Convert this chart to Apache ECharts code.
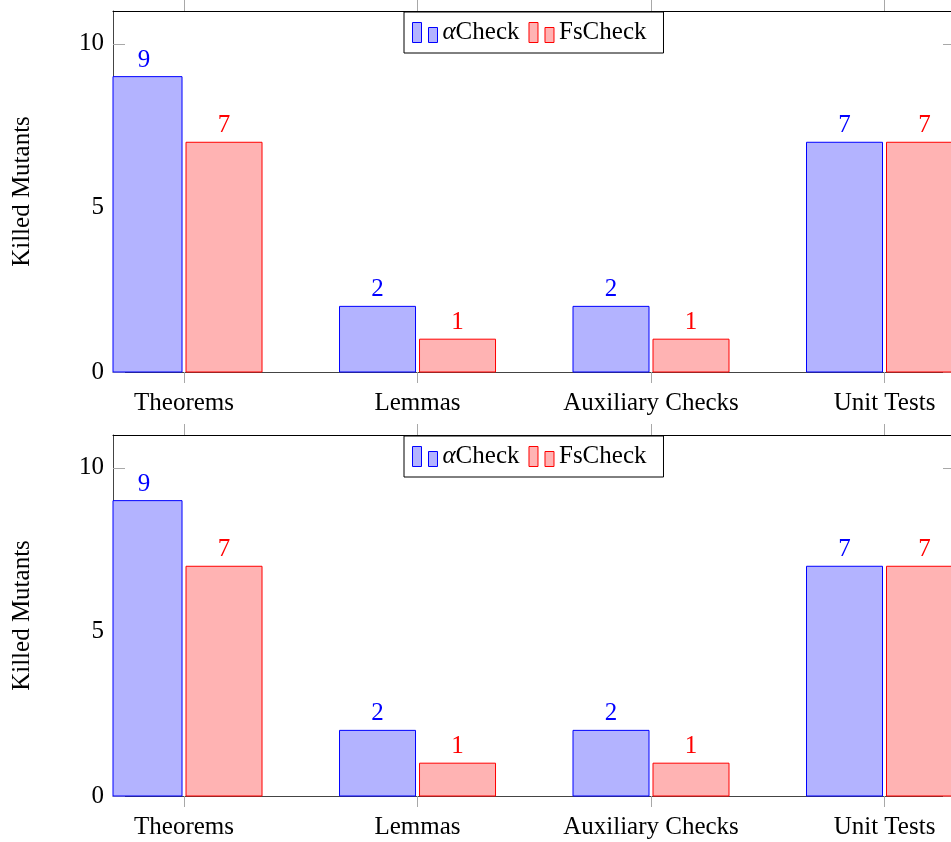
<!DOCTYPE html>
<html>
<head>
<meta charset="utf-8">
<script src="https://cdn.jsdelivr.net/npm/echarts@6/dist/echarts.min.js"></script>
<style>
html,body{margin:0;padding:0;background:#fff;}
#chart{width:951px;height:842px;}
</style>
</head>
<body>
<div id="chart"></div>
<script>
const categories = ['Theorems', 'Lemmas', 'Auxiliary Checks', 'Unit Tests'];
const alphaCheck = [9, 2, 2, 7];
const fsCheck = [7, 1, 1, 7];
const yTicks = [0, 5, 10];
const seriesNames = ['αCheck', 'FsCheck'];

const FONT = 'Liberation Serif';
const FS = 25;
const BAR_W = 76, BAR_GAP = 4;
const X_MIN = -0.3042, X_MAX = 3.2848;
const catPos = categories.map((c, i) => i);
const panels = [{ top: 11, height: 361 }, { top: 435, height: 361 }];

const grids = [], xAxes = [], yAxes = [], series = [], legends = [];
const iconPath = 'path://M0,0h9v20h-9zM16,5h9v15h-9z';

const defs = [
  { name: seriesNames[0], data: alphaCheck, fill: 'rgb(179,179,255)', stroke: '#0000ff', slot: -1 },
  { name: seriesNames[1], data: fsCheck, fill: 'rgb(255,179,179)', stroke: '#ff0000', slot: 1 }
];

function makeRender(d) {
  return function (params, api) {
    const xv = api.value(0), yv = api.value(1);
    const base = api.coord([xv, 0]);
    const top = api.coord([xv, yv]);
    const cx = base[0] + d.slot * (BAR_W + BAR_GAP) / 2;
    const cs = params.coordSys;
    const rect = echarts.graphic.clipRectByRect(
      { x: cx - BAR_W / 2, y: top[1], width: BAR_W, height: base[1] - top[1] },
      { x: cs.x, y: cs.y, width: cs.width + 10, height: cs.height }
    );
    const children = [];
    if (rect) {
      children.push({
        type: 'rect', shape: rect,
        style: { fill: d.fill, stroke: d.stroke, lineWidth: 1 }
      });
    }
    children.push({
      type: 'text', x: cx, y: top[1] - 4,
      style: { text: String(yv), fill: d.stroke, font: FS + 'px "' + FONT + '"',
        textAlign: 'center', textVerticalAlign: 'bottom' }
    });
    return { type: 'group', children: children };
  };
}

panels.forEach((p, k) => {
  grids.push({ left: 113, right: 0, top: p.top, height: p.height, containLabel: false });
  const xBase = {
    type: 'value', gridIndex: k, min: X_MIN, max: X_MAX,
    splitLine: { show: false }
  };
  xAxes.push(Object.assign({}, xBase, {
    position: 'bottom',
    axisLine: { show: true, onZero: false, lineStyle: { color: '#444', width: 1 } },
    axisTick: { show: true, inside: false, length: 11, customValues: catPos, lineStyle: { color: '#a8a8a8' } },
    axisLabel: { show: true, customValues: catPos, margin: 19, color: '#000',
      fontFamily: FONT, fontSize: FS, formatter: v => categories[Math.round(v)] }
  }));
  xAxes.push(Object.assign({}, xBase, {
    position: 'top',
    axisLine: { show: true, onZero: false, lineStyle: { color: '#000', width: 1 } },
    axisTick: { show: true, inside: false, length: 11, customValues: catPos, lineStyle: { color: '#a8a8a8' } },
    axisLabel: { show: false }
  }));
  const yBase = { type: 'value', gridIndex: k, min: 0, max: 11, splitLine: { show: false } };
  yAxes.push(Object.assign({}, yBase, {
    position: 'left',
    name: 'Killed Mutants', nameLocation: 'middle', nameGap: 78,
    nameTextStyle: { fontFamily: FONT, fontSize: FS, color: '#000' },
    axisLine: { show: true, onZero: false, lineStyle: { color: '#444', width: 1 } },
    axisTick: { show: true, inside: true, length: 12, customValues: yTicks, lineStyle: { color: '#a8a8a8' } },
    axisLabel: { show: true, customValues: yTicks, margin: 9, color: '#000', fontFamily: FONT, fontSize: FS }
  }));
  yAxes.push(Object.assign({}, yBase, {
    position: 'right',
    axisLine: { show: false, onZero: false },
    axisTick: { show: true, inside: true, length: 8, customValues: yTicks, lineStyle: { color: '#a8a8a8' } },
    axisLabel: { show: false }
  }));
  defs.forEach(d => {
    series.push({
      type: 'custom', name: d.name, xAxisIndex: 2 * k, yAxisIndex: 2 * k,
      data: d.data.map((v, i) => [catPos[i], v]),
      renderItem: makeRender(d), clip: false,
      itemStyle: { color: d.fill, borderColor: d.stroke, borderWidth: 1 },
      encode: { x: 0, y: 1 },
      emphasis: { disabled: true }, animation: false, silent: true
    });
  });
  legends.push({
    left: 404, top: p.top + 1, orient: 'horizontal',
    backgroundColor: '#fff', borderColor: '#000', borderWidth: 1,
    padding: [8, 17, 8, 8], itemGap: 9, itemWidth: 25, itemHeight: 20,
    data: defs.map(d => ({ name: d.name, icon: iconPath,
      itemStyle: { color: d.fill, borderColor: d.stroke, borderWidth: 1 } })),
    selectedMode: false,
    formatter: n => n === 'αCheck' ? '{a|α}Check' : n,
    textStyle: { fontFamily: FONT, fontSize: FS, color: '#000',
      rich: { a: { fontFamily: FONT, fontSize: FS, fontStyle: 'italic', color: '#000' } } }
  });
});

const chart = echarts.init(document.getElementById('chart'), null, { renderer: 'canvas' });
chart.setOption({
  animation: false,
  backgroundColor: '#fff',
  grid: grids, xAxis: xAxes, yAxis: yAxes, series: series, legend: legends
});
</script>
</body>
</html>
